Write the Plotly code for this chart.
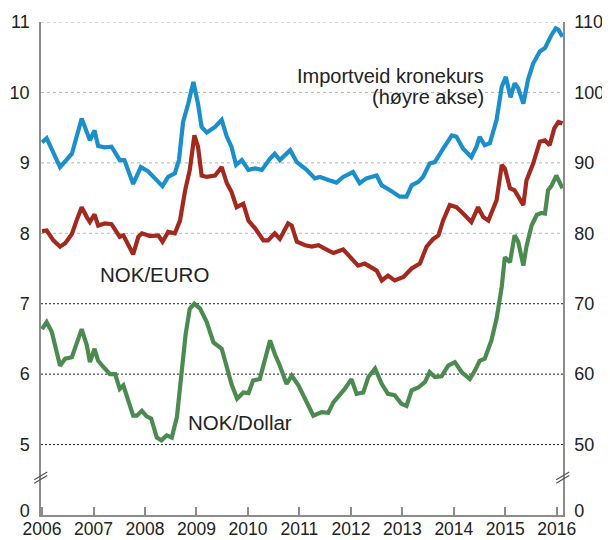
import plotly.graph_objects as go

# ---------------- data ----------------
# Import-weighted krone exchange rate (right axis)
imp_t = [2006.00, 2006.09, 2006.35, 2006.58, 2006.77, 2006.93, 2007.02, 2007.09, 2007.22, 2007.35,
         2007.51, 2007.60, 2007.77, 2007.92, 2008.06, 2008.19, 2008.34, 2008.45, 2008.58, 2008.66,
         2008.74, 2008.84, 2008.94, 2009.03, 2009.10, 2009.20, 2009.36, 2009.49, 2009.59, 2009.68,
         2009.77, 2009.88, 2010.01, 2010.14, 2010.27, 2010.43, 2010.52, 2010.62, 2010.82, 2010.95,
         2011.14, 2011.30, 2011.40, 2011.59, 2011.72, 2011.85, 2012.04, 2012.17, 2012.30, 2012.50,
         2012.60, 2012.76, 2012.95, 2013.08, 2013.18, 2013.31, 2013.40, 2013.53, 2013.63, 2013.79,
         2013.96, 2014.05, 2014.18, 2014.34, 2014.44, 2014.50, 2014.60, 2014.70, 2014.83, 2014.93,
         2015.01, 2015.10, 2015.18, 2015.25, 2015.35, 2015.44, 2015.54, 2015.67, 2015.77, 2015.90,
         2015.98, 2016.03, 2016.11]
imp_v = [92.9, 93.5, 89.4, 91.3, 96.3, 93.2, 94.6, 92.4, 92.2, 92.3,
         90.4, 90.4, 87.0, 89.4, 88.8, 87.8, 86.7, 88.0, 88.5, 90.4,
         95.8, 98.4, 101.5, 98.4, 95.1, 94.3, 95.1, 96.1, 93.7, 92.3,
         89.7, 90.4, 89.0, 89.2, 89.0, 90.6, 91.3, 90.4, 91.8, 90.1,
         89.0, 87.8, 88.0, 87.5, 87.2, 88.0, 88.7, 87.1, 87.8, 88.2,
         86.8, 86.1, 85.2, 85.2, 86.8, 87.3, 88.0, 89.9, 90.1, 92.0,
         93.9, 93.7, 92.0, 90.8, 92.3, 93.7, 92.5, 92.8, 96.1, 100.8,
         102.2, 99.3, 101.3, 100.6, 98.4, 101.8, 104.1, 105.8, 106.3, 108.2,
         109.1, 108.9, 107.9]

# NOK/EURO (left axis)
eur_t = [2006.00, 2006.09, 2006.22, 2006.35, 2006.45, 2006.58, 2006.67, 2006.77, 2006.87, 2006.93,
         2007.02, 2007.09, 2007.22, 2007.35, 2007.51, 2007.58, 2007.68, 2007.77, 2007.87, 2007.94,
         2008.10, 2008.26, 2008.34, 2008.45, 2008.58, 2008.68, 2008.78, 2008.87, 2008.96, 2009.03,
         2009.10, 2009.20, 2009.36, 2009.49, 2009.59, 2009.68, 2009.78, 2009.91, 2010.01, 2010.14,
         2010.30, 2010.39, 2010.52, 2010.62, 2010.78, 2010.85, 2010.95, 2011.11, 2011.24, 2011.37,
         2011.50, 2011.66, 2011.85, 2011.98, 2012.14, 2012.27, 2012.43, 2012.50, 2012.60, 2012.72,
         2012.85, 2013.02, 2013.18, 2013.34, 2013.47, 2013.60, 2013.70, 2013.79, 2013.92, 2014.05,
         2014.18, 2014.34, 2014.47, 2014.57, 2014.67, 2014.83, 2014.93, 2014.99, 2015.09, 2015.18,
         2015.35, 2015.41, 2015.54, 2015.67, 2015.77, 2015.86, 2015.95, 2016.03, 2016.11]
eur_v = [8.03, 8.04, 7.90, 7.81, 7.86, 7.99, 8.18, 8.37, 8.23, 8.16,
         8.27, 8.11, 8.14, 8.13, 7.95, 7.97, 7.83, 7.70, 7.95, 8.00,
         7.96, 7.97, 7.88, 8.02, 8.00, 8.18, 8.61, 8.90, 9.39, 9.23,
         8.82, 8.80, 8.82, 8.94, 8.71, 8.59, 8.37, 8.42, 8.18, 8.07,
         7.90, 7.90, 8.00, 7.92, 8.14, 8.11, 7.88, 7.83, 7.81, 7.83,
         7.78, 7.72, 7.77, 7.66, 7.54, 7.57, 7.50, 7.47, 7.33, 7.40,
         7.33, 7.38, 7.50, 7.57, 7.81, 7.92, 7.97, 8.18, 8.40, 8.37,
         8.28, 8.16, 8.37, 8.23, 8.18, 8.47, 8.97, 8.92, 8.64, 8.61,
         8.40, 8.75, 8.99, 9.30, 9.32, 9.25, 9.49, 9.58, 9.56]

# NOK/Dollar (left axis)
usd_t = [2006.00, 2006.09, 2006.19, 2006.35, 2006.45, 2006.58, 2006.67, 2006.77, 2006.87, 2006.93,
         2007.02, 2007.09, 2007.22, 2007.32, 2007.42, 2007.51, 2007.58, 2007.68, 2007.77, 2007.84,
         2007.94, 2008.03, 2008.12, 2008.23, 2008.32, 2008.42, 2008.52, 2008.62, 2008.71, 2008.79,
         2008.87, 2008.96, 2009.07, 2009.20, 2009.33, 2009.49, 2009.59, 2009.68, 2009.79, 2009.91,
         2010.01, 2010.10, 2010.23, 2010.33, 2010.43, 2010.52, 2010.62, 2010.75, 2010.85, 2010.98,
         2011.11, 2011.27, 2011.43, 2011.56, 2011.66, 2011.79, 2011.88, 2012.01, 2012.11, 2012.24,
         2012.34, 2012.47, 2012.60, 2012.72, 2012.85, 2012.98, 2013.08, 2013.18, 2013.31, 2013.44,
         2013.53, 2013.63, 2013.76, 2013.89, 2014.02, 2014.15, 2014.31, 2014.41, 2014.50, 2014.60,
         2014.73, 2014.83, 2014.93, 2014.99, 2015.09, 2015.18, 2015.25, 2015.35, 2015.41, 2015.51,
         2015.61, 2015.70, 2015.77, 2015.83, 2015.90, 2015.99, 2016.06, 2016.11]
usd_v = [6.64, 6.74, 6.60, 6.12, 6.22, 6.24, 6.43, 6.64, 6.41, 6.17,
         6.36, 6.19, 6.08, 6.00, 6.00, 5.79, 5.84, 5.63, 5.41, 5.41,
         5.48, 5.40, 5.37, 5.10, 5.06, 5.13, 5.10, 5.39, 5.96, 6.57,
         6.93, 7.00, 6.93, 6.74, 6.45, 6.36, 6.10, 5.86, 5.65, 5.74,
         5.73, 5.91, 5.93, 6.19, 6.48, 6.29, 6.12, 5.86, 5.98, 5.84,
         5.65, 5.41, 5.46, 5.45, 5.60, 5.70, 5.79, 5.93, 5.72, 5.74,
         5.96, 6.08, 5.86, 5.72, 5.70, 5.58, 5.55, 5.77, 5.81, 5.89,
         6.03, 5.96, 5.97, 6.12, 6.17, 6.03, 5.93, 6.05, 6.19, 6.22,
         6.48, 6.79, 7.24, 7.66, 7.59, 7.97, 7.88, 7.54, 7.81, 8.11,
         8.26, 8.29, 8.28, 8.61, 8.68, 8.82, 8.73, 8.64]

years = list(range(2006, 2017))
left_ticks = [4.06, 5, 6, 7, 8, 9, 10, 11]
left_text = ["0", "5", "6", "7", "8", "9", "10", "11"]
right_ticks = [40.6, 50, 60, 70, 80, 90, 100, 110]
right_text = ["0", "50", "60", "70", "80", "90", "100", "110"]
grid_gray = [8, 9, 10, 11]
grid_black = [5, 6, 7]

FONT = "Liberation Sans, Arial, sans-serif"
BLUE = "#1a8fcb"
RED = "#a3291f"
GREEN = "#4b8b4f"
AXIS = "#8c8c8c"

fig = go.Figure()
fig.add_trace(go.Scatter(x=imp_t, y=imp_v, yaxis="y2", mode="lines",
                         line=dict(color=BLUE, width=4.2), name="Importveid kronekurs"))
fig.add_trace(go.Scatter(x=eur_t, y=eur_v, mode="lines",
                         line=dict(color=RED, width=4.2), name="NOK/EURO"))
fig.add_trace(go.Scatter(x=usd_t, y=usd_v, mode="lines",
                         line=dict(color=GREEN, width=4.2), name="NOK/Dollar"))

shapes = []
for g in grid_gray:
    shapes.append(dict(type="line", xref="paper", yref="y", x0=0, x1=1, y0=g, y1=g,
                       line=dict(color="#b5b5b5", width=1, dash="3px,3px"), layer="below"))
for g in grid_black:
    shapes.append(dict(type="line", xref="paper", yref="y", x0=0, x1=1, y0=g, y1=g,
                       line=dict(color="#222222", width=1, dash="2px,2px"), layer="below"))
# axis-break marks
for xp in (0.0, 1.0):
    for dy in (0.0, 0.05):
        shapes.append(dict(type="line", xref="paper", yref="y",
                           x0=xp - 0.013, x1=xp + 0.012, y0=4.45 + dy, y1=4.56 + dy,
                           line=dict(color="#555555", width=1.2)))

# page body has an 8px default margin, so the figure is 8px smaller than the window
fig.update_layout(
    width=602, height=532,
    margin=dict(l=33, r=47, t=14, b=25),
    paper_bgcolor="white", plot_bgcolor="white",
    showlegend=False,
    font=dict(family=FONT, size=18, color="#222222"),
    shapes=shapes,
    xaxis=dict(range=[2005.98, 2016.12], tickmode="array", tickvals=years,
               ticktext=[str(y) for y in years], ticks="inside", ticklen=8,
               tickcolor=AXIS, tickwidth=1.5, showline=True, linecolor=AXIS, linewidth=1.5,
               showgrid=False, zeroline=False, tickfont=dict(size=17.5), automargin=False,
               ticklabelstandoff=-3),
    yaxis=dict(range=[4, 11], tickmode="array", tickvals=left_ticks, ticktext=left_text,
               showline=True, linecolor=AXIS, linewidth=1.5, showgrid=False,
               zeroline=False, ticks="", tickfont=dict(size=18), automargin=False,
               ticklabelstandoff=6),
    yaxis2=dict(range=[40, 110], tickmode="array", tickvals=right_ticks, ticktext=right_text,
                overlaying="y", side="right", showline=True, linecolor=AXIS, linewidth=1.5,
                showgrid=False, zeroline=False, ticks="", tickfont=dict(size=18),
                automargin=False, ticklabelstandoff=6),
    annotations=[
        dict(text="Importveid kronekurs", xref="x", yref="y",
             x=2014.62, y=10.24, xanchor="right", yanchor="middle",
             showarrow=False, font=dict(size=20)),
        dict(text="(høyre akse)", xref="x", yref="y",
             x=2014.62, y=9.93, xanchor="right", yanchor="middle",
             showarrow=False, font=dict(size=20)),
        dict(text="NOK/EURO", xref="x", yref="y", x=2007.09, y=7.42,
             xanchor="left", yanchor="middle", showarrow=False, font=dict(size=20.5)),
        dict(text="NOK/Dollar", xref="x", yref="y", x=2008.8, y=5.31,
             xanchor="left", yanchor="middle", showarrow=False, font=dict(size=20.5)),
    ],
)

fig.write_html("out.html")
